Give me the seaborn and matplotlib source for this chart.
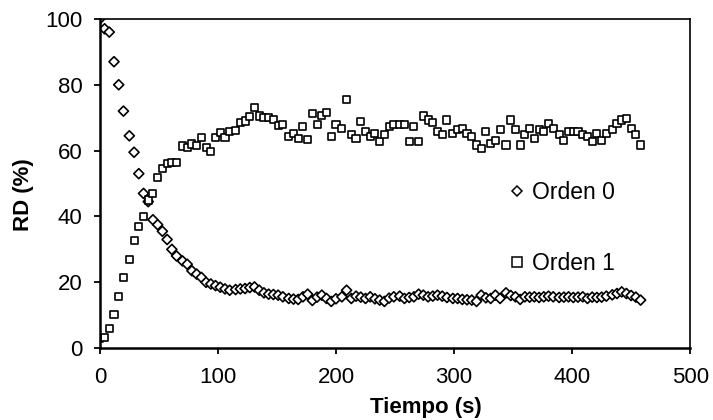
import pandas as pd
import matplotlib
matplotlib.use("Agg")
import matplotlib.pyplot as plt
import seaborn as sns

# sampling times (s)
tiempo = [0, 4, 8, 12, 16, 20, 25, 29, 33, 37, 41, 45, 49, 53, 57, 61, 65, 70, 74, 78,
          82, 86, 90, 94, 98, 102, 106, 110, 115, 119, 123, 127, 131, 135, 139, 143, 147,
          151, 155, 160, 164, 168, 172, 176, 180, 184, 188, 192, 196, 200, 205, 209, 213,
          217, 221, 225, 229, 233, 237, 241, 245, 249, 254, 258, 262, 266, 270, 274, 278,
          282, 286, 290, 294, 299, 303, 307, 311, 315, 319, 323, 327, 331, 335, 339, 344,
          348, 352, 356, 360, 364, 368, 372, 376, 380, 384, 389, 393, 397, 401, 405, 409,
          413, 417, 421, 425, 429, 434, 438, 442, 446, 450, 454, 458]

# RD (%) - Orden 0
orden0 = [100, 97, 96, 87, 80, 72, 64.5, 59.5, 53, 47, 44.5, 39, 37.5, 35.5, 33, 30, 28,
          26.5, 25.5, 23.5, 22.5, 21.5, 20, 19.5, 19, 18.5, 18, 17.6, 17.8, 18, 18.1, 18.4,
          18.6, 17.6, 16.8, 16.4, 16.3, 16.1, 15.6, 15.1, 14.9, 14.8, 15.6, 16.4, 14.5,
          15.5, 16.1, 15.1, 14.2, 15, 15.6, 17.6, 15.1, 15.8, 15.5, 15.1, 15.6, 15, 14.6,
          14.2, 15.2, 15.6, 15.8, 15.1, 15.4, 15.6, 16.4, 16.1, 15.6, 15.8, 16.1, 15.8,
          15.4, 15.1, 15.1, 14.8, 14.7, 14.6, 14.2, 16.1, 15.3, 15.1, 16.1, 15.1, 16.8, 16,
          15.6, 14.8, 15.6, 15.5, 15.6, 15.4, 15.6, 15.8, 15.6, 15.4, 15.5, 15.6, 15.4,
          15.5, 15.6, 15.1, 15.5, 15.4, 15.5, 15.8, 16.2, 16.6, 17.1, 16.6, 16, 15.5, 14.6]

# RD (%) - Orden 1
orden1 = [3, 3.3, 6, 10.3, 15.8, 21.5, 26.8, 32.8, 37, 40, 45, 47, 51.7, 54.6, 56.2, 56.5,
          56.3, 61.4, 61, 62, 61.5, 64.1, 61, 59.6, 64, 65.5, 64, 65.8, 66, 68.4, 69, 70.3,
          73.2, 70.5, 70, 70, 69.5, 67.6, 67.8, 64.2, 65.3, 63.7, 67.3, 63.4, 71.3, 67.8,
          70.8, 71.5, 64.2, 67.8, 66.8, 75.6, 64.8, 63.7, 68.8, 65.7, 64.2, 65.2, 62.7,
          64.8, 67.3, 67.8, 67.8, 67.8, 62.7, 67.3, 62.7, 70.5, 69.3, 68.4, 65.7, 64.8,
          69.3, 65.2, 66.3, 66.8, 65.2, 64.2, 61.7, 60.7, 65.7, 62.2, 63.2, 66.3, 61.7,
          69.3, 66.3, 61.7, 64.8, 66.8, 63.7, 66.3, 65.7, 68.3, 66.8, 64.8, 63.2, 65.7,
          65.7, 65.7, 64.8, 64.2, 62.7, 65.2, 63.2, 65.2, 66.3, 68.3, 69.3, 69.8, 66.8,
          64.8, 61.7]

series_labels = ["Orden 0", "Orden 1"]
x_ticks = [0, 100, 200, 300, 400, 500]
y_ticks = [0, 20, 40, 60, 80, 100]

sns.set_style("ticks")
plt.rcParams["font.family"] = ["Liberation Sans", "DejaVu Sans"]

df = pd.DataFrame({
    "tiempo": tiempo * 2,
    "rd": orden0 + orden1,
    "serie": [series_labels[0]] * len(tiempo) + [series_labels[1]] * len(tiempo),
})

fig = plt.figure(figsize=(7.13, 4.2), dpi=100)
ax = fig.add_axes([0.140, 0.171, 0.828, 0.784])

sns.scatterplot(data=df, x="tiempo", y="rd", style="serie", markers=["D", "s"],
                hue="serie", palette=["white", "white"], edgecolor="black",
                linewidth=1.2, s=40, ax=ax, legend=True)
# squares are drawn a bit bigger than the diamonds in the original
for coll, size in zip(ax.collections, [26, 62]):
    coll.set_sizes([size])

ax.set_xlim(0, 500)
ax.set_ylim(0, 100)
ax.set_xticks(x_ticks)
ax.set_yticks(y_ticks)
ax.tick_params(axis="both", direction="out", length=4.5, width=1.3, labelsize=16,
               colors="black", pad=8)
ax.tick_params(axis="x", pad=9)
ax.set_xlabel("Tiempo (s)", fontsize=16, fontweight="bold", color="black")
ax.set_ylabel("RD (%)", fontsize=16, fontweight="bold", color="black")
# Excel put the titles a bit off-centre
ax.xaxis.set_label_coords(0.553, -0.148)
ax.yaxis.set_label_coords(-0.112, 0.465)

for side in ["left", "bottom"]:
    ax.spines[side].set_linewidth(1.8)
    ax.spines[side].set_color("black")
for side in ["top", "right"]:
    ax.spines[side].set_visible(True)
    ax.spines[side].set_linewidth(1.2)
    ax.spines[side].set_color("black")

handles, labels = ax.get_legend_handles_labels()
for h in handles:
    h.set_markeredgecolor("black")
    h.set_markerfacecolor("white")
    h.set_markeredgewidth(1.1)
handles[0].set_markersize(5)
handles[1].set_markersize(7)
leg = ax.legend(handles, labels, loc="upper left", bbox_to_anchor=(0.695, 0.508),
                frameon=False, borderaxespad=0, borderpad=0, fontsize=16.5,
                labelspacing=2.1, handlelength=0.6, handletextpad=0.35)
for txt in leg.get_texts():
    txt.set_color("black")

fig.savefig("out.png", dpi=100)
